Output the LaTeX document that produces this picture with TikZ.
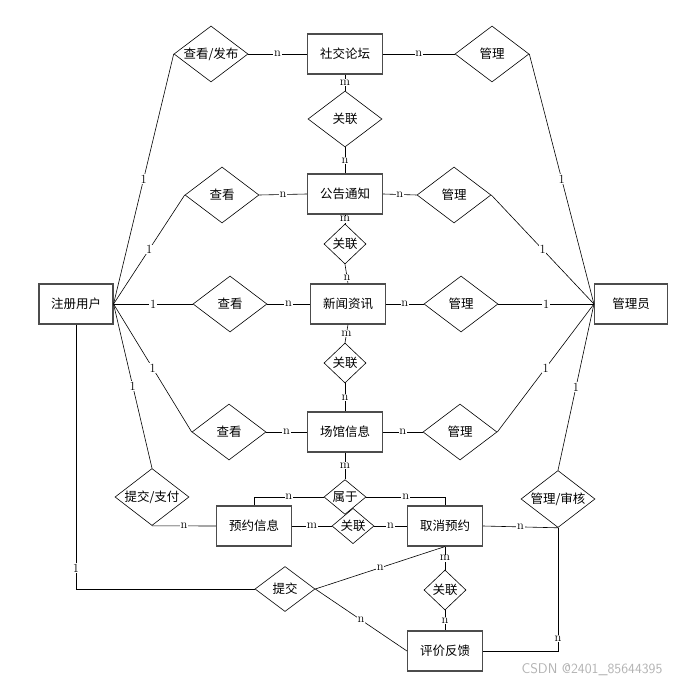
\documentclass[tikz,border=0pt]{standalone}
\usepackage{fontspec}
\newfontfamily\cjk{Noto Sans CJK SC}
\usetikzlibrary{shapes.geometric}

\begin{document}
\begin{tikzpicture}[
    x=1pt, y=-1pt,
    ent/.style={draw=black!70, line width=1.1pt, rectangle, minimum width=75pt,
                minimum height=40pt, inner sep=0pt, font=\cjk\fontsize{12.5}{14}\selectfont},
    rel/.style={draw, diamond, line width=0.6pt, inner sep=0pt, aspect=1.3,
                minimum width=74pt, minimum height=56pt,
                font=\cjk\fontsize{12.5}{14}\selectfont},
    relsmall/.style={rel, aspect=1.05, minimum width=42pt, minimum height=40pt},
    card/.style={fill=white, inner sep=0.8pt, font=\fontsize{12.5}{12}\selectfont},
    link/.style={line width=0.6pt},
]
    \useasboundingbox (0,0) rectangle (675,684);

    %==================== entities ====================
    \node[ent] (forum)   at (345,54)    {社交论坛};
    \node[ent] (notice)  at (345,194)   {公告通知};
    \node[ent] (news)    at (348,304)   {新闻资讯};
    \node[ent] (venue)   at (345,432)   {场馆信息};
    \node[ent, minimum width=74pt] (user) at (76,304) {注册用户};
    \node[ent, minimum width=73pt] (admin) at (631,304) {管理员};
    \node[ent] (booking) at (254,526)   {预约信息};
    \node[ent] (cancel)  at (445,526)   {取消预约};
    \node[ent] (review)  at (445,651)   {评价反馈};

    %==================== relations ====================
    \node[rel] (viewpost)   at (211,54)  {查看/发布};
    \node[rel] (mgforum)    at (492,54)  {管理};
    \node[rel] (relfn)      at (345,119) {关联};
    \node[rel] (viewnotice) at (222,195) {查看};
    \node[rel] (mgnotice)   at (454,195) {管理};
    \node[relsmall] (relnn) at (345,244) {关联};
    \node[rel] (viewnews)   at (230,304) {查看};
    \node[rel] (mgnews)     at (461,304) {管理};
    \node[relsmall] (relnv) at (345,363) {关联};
    \node[rel] (viewvenue)  at (229,432) {查看};
    \node[rel] (mgvenue)    at (460,432) {管理};
    \node[relsmall, minimum height=32pt] (belong) at (345,497) {属于};
    \node[relsmall, minimum height=32pt] (relbc)  at (353,526) {关联};
    \node[rel, minimum height=57pt] (paysub) at (152,497) {提交/支付};
    \node[rel, minimum height=57pt] (audit)  at (558,499) {管理/审核};
    \node[rel, minimum width=60pt, minimum height=45pt] (submit) at (285,589) {提交};
    \node[relsmall] (relcr) at (445,590) {关联};

    %==================== user side ====================
    \draw[link] (user.east) -- node[card] {1} (viewpost.west);
    \draw[link] (user.east) -- node[card] {1} (viewnotice.west);
    \draw[link] (user.east) -- node[card] {1} (viewnews.west);
    \draw[link] (user.east) -- node[card] {1} (viewvenue.west);
    \draw[link] (user.east) -- node[card] {1} (paysub.north);
    \draw[link] (user.south) |- node[card, pos=0.46] {1} (submit.west);

    \draw[link] (viewpost.east) -- node[card] {n} (forum.west);
    \draw[link] (viewnotice.east) -- node[card] {n} (notice.west);
    \draw[link] (viewnews.east) -- node[card] {n} (news.west);
    \draw[link] (viewvenue.east) -- node[card] {n} (venue.west);

    %==================== admin side ====================
    \draw[link] (forum.east) -- node[card] {n} (mgforum.west);
    \draw[link] (notice.east) -- node[card] {n} (mgnotice.west);
    \draw[link] (news.east) -- node[card] {n} (mgnews.west);
    \draw[link] (venue.east) -- node[card] {n} (mgvenue.west);

    \draw[link] (mgforum.east) -- node[card] {1} (admin.west);
    \draw[link] (mgnotice.east) -- node[card] {1} (admin.west);
    \draw[link] (mgnews.east) -- node[card] {1} (admin.west);
    \draw[link] (mgvenue.east) -- node[card] {1} (admin.west);
    \draw[link] (audit.north) -- node[card] {1} (admin.west);

    %==================== middle column ====================
    \draw[link] (forum.south) -- node[card] {m} (relfn.north);
    \draw[link] (relfn.south) -- node[card] {n} (notice.north);
    \draw[link] (notice.south) -- node[card] {m} (relnn.north);
    \draw[link] (relnn.south) -- node[card, pos=0.7] {n} (news.north);
    \draw[link] (news.south) -- node[card] {m} (relnv.north);
    \draw[link] (relnv.south) -- node[card] {n} (venue.north);
    \draw[link] (venue.south) -- node[card] {m} (belong.north);

    %==================== booking ====================
    \draw[link] (belong.west) -| node[card, pos=0.25] {n} (booking.north);
    \draw[link] (belong.east) -| node[card, pos=0.25] {n} (cancel.north);
    \draw[link] (paysub.south) -- node[card] {n} (booking.west);
    \draw[link] (booking.east) -- node[card] {m} (relbc.west);
    \draw[link] (relbc.east) -- node[card] {n} (cancel.west);
    \draw[link] (cancel.east) -- node[card] {n} (audit.south);
    \draw[link] (audit.south) |- node[card, pos=0.45] {n} (review.east);

    %==================== review ====================
    \draw[link] (submit.east) -- node[card] {n} (cancel.south);
    \draw[link] (submit.east) -- node[card] {n} (review.west);
    \draw[link] (cancel.south) -- node[card] {m} (relcr.north);
    \draw[link] (relcr.south) -- node[card] {n} (review.north);

    \node[anchor=west, text=black!30, font=\sffamily\fontsize{14}{15}\selectfont]
        (mark) at (518,670) {CSDN @2401\_85644395};

\end{tikzpicture}
\end{document}
